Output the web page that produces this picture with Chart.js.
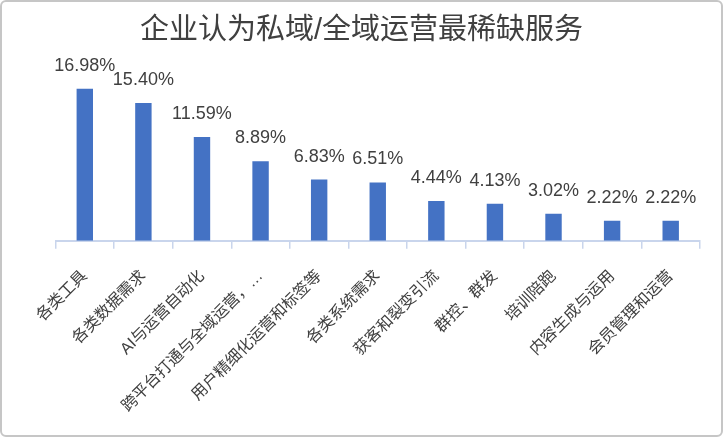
<!DOCTYPE html>
<html>
<head>
<meta charset="utf-8">
<script src="https://cdn.jsdelivr.net/npm/chart.js@4/dist/chart.umd.min.js"></script>
<style>
  html, body { margin: 0; padding: 0; background: #ffffff; }
  #wrap { position: relative; width: 723px; height: 437px; box-sizing: border-box; border: 2px solid #c6c6c6; border-radius: 6px; background: #fff; overflow: hidden; }
  canvas { display: block; }
</style>
</head>
<body>
<div id="wrap"><canvas id="c" width="719" height="433"></canvas></div>
<script>
const titleText = "企业认为私域/全域运营最稀缺服务";
const categories = ["各类工具", "各类数据需求", "AI与运营自动化", "跨平台打通与全域运营，…", "用户精细化运营和标签等", "各类系统需求", "获客和裂变引流", "群控、群发", "培训陪跑", "内容生成与运用", "会员管理和运营"];
const values = [16.98, 15.40, 11.59, 8.89, 6.83, 6.51, 4.44, 4.13, 3.02, 2.22, 2.22];

const FONT = '"Liberation Sans", "Noto Sans CJK SC", sans-serif';
const TEXT = '#404040';
const AXIS = '#c9d5ec';

const valueLabels = {
  id: 'valueLabels',
  afterDatasetsDraw(chart) {
    const ctx = chart.ctx;
    const meta = chart.getDatasetMeta(0);
    ctx.save();
    ctx.font = '18px ' + FONT;
    ctx.fillStyle = TEXT;
    ctx.textAlign = 'center';
    ctx.textBaseline = 'middle';
    meta.data.forEach((bar, i) => {
      ctx.fillText(values[i].toFixed(2) + '%', bar.x, bar.y - 23);
    });
    ctx.restore();
  }
};

function spacer(w) {
  return {
    display: true,
    grid: { display: false },
    border: { display: false },
    ticks: { display: false },
    afterFit(s) { s.width = w; }
  };
}

new Chart(document.getElementById('c'), {
  type: 'bar',
  data: {
    labels: categories,
    datasets: [{
      data: values,
      yAxisID: 'y',
      backgroundColor: '#4472c4',
      borderWidth: 0,
      barPercentage: 0.28,
      categoryPercentage: 1.0
    }]
  },
  options: {
    responsive: false,
    animation: false,
    devicePixelRatio: 1,
    layout: { padding: { left: 0, right: 0, top: 0, bottom: 1 } },
    plugins: {
      legend: { display: false },
      tooltip: { enabled: false },
      title: {
        display: true,
        text: titleText,
        color: TEXT,
        font: { family: FONT, size: 29, weight: 'normal' },
        padding: { top: 12, bottom: 13 }
      }
    },
    scales: {
      y: { display: false, min: 0, max: 20 },
      padL: Object.assign({ position: 'left' }, spacer(53.5)),
      padR: Object.assign({ position: 'right' }, spacer(21)),
      x: {
        grid: { display: true, drawOnChartArea: false, drawTicks: true, tickLength: 8, color: AXIS, lineWidth: 1.5, offset: true },
        border: { display: true, color: AXIS, width: 2 },
        ticks: {
          color: TEXT,
          font: { family: FONT, size: 16 },
          minRotation: 45,
          maxRotation: 45,
          autoSkip: false,
          padding: 18
        }
      }
    }
  },
  plugins: [valueLabels]
});
</script>
</body>
</html>
